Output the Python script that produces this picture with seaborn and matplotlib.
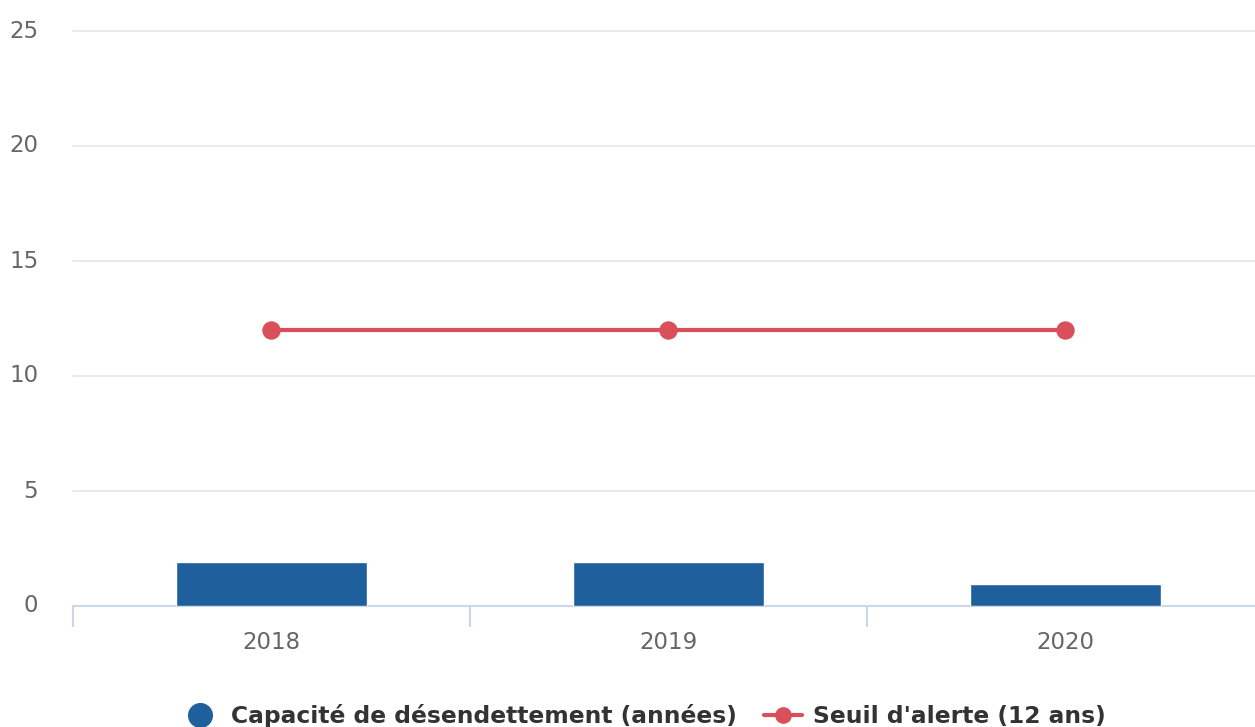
import matplotlib
matplotlib.use("Agg")
import matplotlib.pyplot as plt
from matplotlib.lines import Line2D
import seaborn as sns
import pandas as pd

years = ["2018", "2019", "2020"]
capacite = [1.9, 1.9, 0.95]
seuil = [12, 12, 12]

bar_color = "#1f5f9b"
line_color = "#da505a"

df = pd.DataFrame({"annee": years, "capacite": capacite, "seuil": seuil})

sns.set_theme(style="white")
plt.rcParams["font.family"] = ["DejaVu Sans"]

fig = plt.figure(figsize=(12.55, 7.27), dpi=100)
ax = fig.add_axes([73 / 1255, 1 - 606 / 727, 1191 / 1255, (606 - 31) / 727])

sns.barplot(data=df, x="annee", y="capacite", color=bar_color, width=0.48,
            saturation=1, ax=ax, zorder=3)
sns.pointplot(data=df, x="annee", y="seuil", color=line_color, ax=ax,
              markers="o", linewidth=3, markersize=11, zorder=4)

ax.set_xlim(-0.5, 2.5)
ax.set_ylim(0, 25)
ax.set_yticks([0, 5, 10, 15, 20, 25])
ax.grid(axis="y", color="#e6e6e6", linewidth=1.2, zorder=0)
ax.set_axisbelow(True)
for gl in ax.get_ygridlines():
    gl.set_clip_on(False)

for s in ["top", "right", "left"]:
    ax.spines[s].set_visible(False)
ax.spines["bottom"].set_color("#ccd6eb")
ax.spines["bottom"].set_linewidth(1.5)

ax.set_xlabel("")
ax.set_ylabel("")
ax.tick_params(axis="y", length=0, pad=25, labelsize=16.5, labelcolor="#666666")
ax.tick_params(axis="x", which="major", length=0, pad=18, labelsize=16.5,
               labelcolor="#666666")
ax.set_xticks([-0.5, 0.5, 1.5, 2.5], minor=True)
ax.tick_params(axis="x", which="minor", bottom=True, length=15, width=1.5,
               color="#ccd6eb", direction="out")
for lbl in ax.get_yticklabels():
    lbl.set_verticalalignment("center")

handles = [
    Line2D([], [], linestyle="none", marker="o", markersize=17,
           markerfacecolor=bar_color, markeredgecolor=bar_color),
    Line2D([], [], color=line_color, linewidth=3, marker="o", markersize=11),
]
labels = ["Capacité de désendettement (années)", "Seuil d'alerte (12 ans)"]
fig.legend(handles, labels, loc="lower center", bbox_to_anchor=(0.513, -0.03),
           ncol=2, frameon=False, handlelength=1.6, handletextpad=0.5,
           columnspacing=1.2, prop={"weight": "bold", "size": 16.8},
           labelcolor="#333333")

fig.savefig("out.png", dpi=100)
